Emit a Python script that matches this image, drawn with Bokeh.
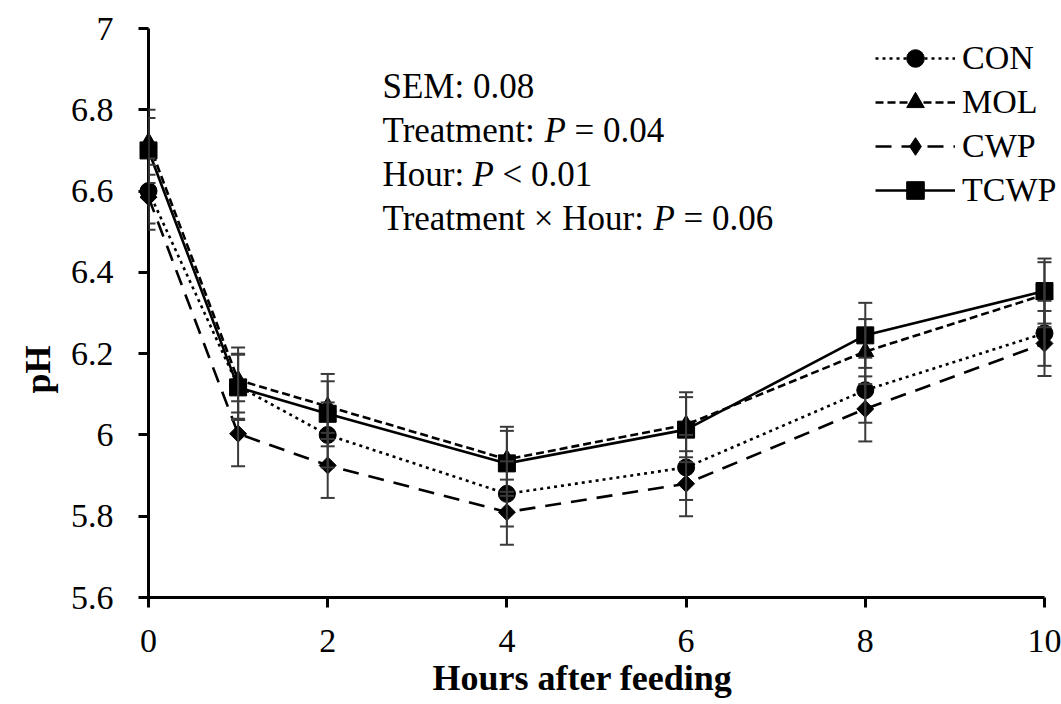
import math
from bokeh.plotting import figure
from bokeh.models import (Range1d, ColumnDataSource, Whisker, TeeHead, Legend, LegendItem,
                          Label, FixedTicker, Title)
from bokeh.embed import file_html
from bokeh.resources import INLINE

# ---- data ----
hours = [0, 1, 2, 4, 6, 8, 10]
con = [6.60, 6.12, 6.00, 5.855, 5.92, 6.11, 6.25]
mol = [6.72, 6.135, 6.07, 5.94, 6.025, 6.205, 6.345]
cwp = [6.585, 6.003, 5.925, 5.81, 5.88, 6.064, 6.225]
tcwp = [6.70, 6.117, 6.052, 5.93, 6.013, 6.245, 6.354]
sem = 0.08
series_names = ["CON", "MOL", "CWP", "TCWP"]
y_ticks = [5.6, 5.8, 6.0, 6.2, 6.4, 6.6, 6.8, 7.0]
y_tick_labels = ["5.6", "5.8", "6", "6.2", "6.4", "6.6", "6.8", "7"]
x_ticks = [0, 2, 4, 6, 8, 10]
x_title = "Hours after feeding"
y_title = "pH"
stats_lines = [("SEM: 0.08", None, None),
               ("Treatment:", "P", "= 0.04"),
               ("Hour:", "P", "< 0.01"),
               ("Treatment \u00d7 Hour:", "P", "= 0.06")]

FONT = "Liberation Serif"

p = figure(width=1061, height=704, output_backend="svg", toolbar_location=None,
           x_range=Range1d(0, 10.19), y_range=Range1d(5.6, 7.0),
           min_border_left=148, min_border_right=0, min_border_top=28, min_border_bottom=107)
p.outline_line_color = None
p.xgrid.visible = False
p.ygrid.visible = False
p.background_fill_color = "white"
p.border_fill_color = "white"

xax = p.xaxis[0]
yax = p.yaxis[0]
for ax in (xax, yax):
    ax.axis_line_width = 3
    ax.axis_line_color = "black"
    ax.major_tick_line_width = 3
    ax.major_tick_line_color = "black"
    ax.major_tick_out = 10
    ax.major_tick_in = 0
    ax.minor_tick_line_color = None
    ax.major_label_text_font = FONT
    ax.major_label_text_font_size = "34px"
    ax.major_label_text_color = "black"

yax.ticker = FixedTicker(ticks=y_ticks)
yax.major_label_overrides = {t: l for t, l in zip(y_ticks, y_tick_labels)}
yax.major_label_standoff = 25
xax.ticker = FixedTicker(ticks=x_ticks)
xax.bounds = (0, 10)
xax.major_label_standoff = 22

# axis titles as side titles, so they can sit off-centre like the original
p.add_layout(Title(text=x_title, align="left", offset=284, standoff=3,
                   text_font=FONT, text_font_size="36px", text_font_style="bold",
                   text_color="black"), "below")
p.add_layout(Title(text=y_title, align="left", offset=204, standoff=20,
                   text_font=FONT, text_font_size="36px", text_font_style="bold",
                   text_color="black"), "left")

styles = {
    "CON": dict(dash="3 4", marker="circle", size=17, angle=0.0),
    "MOL": dict(dash="8 4", marker="triangle", size=17, angle=0.0),
    "CWP": dict(dash="16 10", marker="square", size=12, angle=math.pi / 4),
    "TCWP": dict(dash="solid", marker="square", size=17, angle=0.0),
}
values = {"CON": con, "MOL": mol, "CWP": cwp, "TCWP": tcwp}

# error bars
for name in series_names:
    v = values[name]
    src = ColumnDataSource(dict(x=hours, lo=[a - sem for a in v], hi=[a + sem for a in v]))
    w = Whisker(source=src, base="x", lower="lo", upper="hi", line_color="#3a3a3a", line_width=2,
                level="overlay",
                upper_head=TeeHead(size=14, line_color="#3a3a3a", line_width=2),
                lower_head=TeeHead(size=14, line_color="#3a3a3a", line_width=2))
    p.add_layout(w)

items = []
for name in series_names:
    st = styles[name]
    src = ColumnDataSource(dict(x=hours, y=values[name]))
    lr = p.line("x", "y", source=src, line_color="black", line_width=2.6,
                line_dash=st["dash"], level="overlay")
    sr = p.scatter("x", "y", source=src, marker=st["marker"], size=st["size"], angle=st["angle"],
                   fill_color="black", line_color="black", level="overlay")
    if name == "CWP":
        # legend swatch: the legend cannot rotate a square, so use a diamond marker there
        sr = p.scatter("x", "y", source=src, marker="diamond", size=st["size"],
                       fill_color="black", line_color="black", visible=False)
    items.append(LegendItem(label=name, renderers=[lr, sr]))

legend = Legend(items=items, location=(727, 385), glyph_width=80, glyph_height=44,
                label_height=44, label_standoff=7, spacing=0, padding=0, margin=0,
                border_line_color=None, background_fill_alpha=0,
                label_text_font=FONT, label_text_font_size="34px", label_text_color="black",
                label_text_baseline="middle")
p.add_layout(legend)

# statistics text block (positions in screen px from the frame's bottom-left corner)
line_x0 = 234
p_x = [None, 396, 324, 505]
rest_x = [None, 426, 354, 535]
baselines = [511, 467, 423, 379]
for (txt, ptxt, rest), px, rx, by in zip(stats_lines, p_x, rest_x, baselines):
    p.add_layout(Label(x=line_x0, y=by, x_units="screen", y_units="screen", text=txt,
                       text_font=FONT, text_font_size="35px", text_color="black",
                       text_baseline="alphabetic", text_align="left"))
    if ptxt:
        p.add_layout(Label(x=px, y=by, x_units="screen", y_units="screen", text=ptxt,
                           text_font=FONT, text_font_size="35px", text_font_style="italic",
                           text_color="black", text_baseline="alphabetic", text_align="left"))
        p.add_layout(Label(x=rx, y=by, x_units="screen", y_units="screen", text=rest,
                           text_font=FONT, text_font_size="35px", text_color="black",
                           text_baseline="alphabetic", text_align="left"))

open("out.html", "w").write(file_html(p, INLINE))
